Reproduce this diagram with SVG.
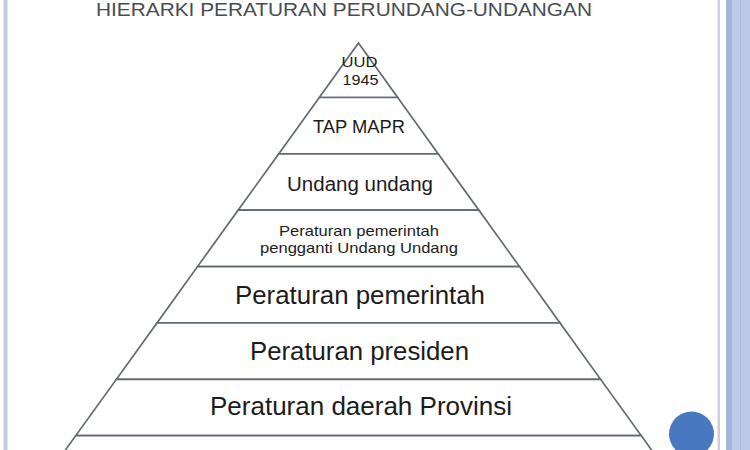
<svg xmlns="http://www.w3.org/2000/svg" width="750" height="450" viewBox="0 0 750 450">
<style>
.tier{fill:#ffffff;stroke:#626a73;stroke-width:1.7;stroke-linejoin:miter}
.lbl{font-family:"Liberation Sans",Arial,sans-serif;fill:#1c1c1c;text-anchor:middle}
.title{font-family:"Liberation Sans",Arial,sans-serif;fill:#474c53;font-size:19px}
</style>
<rect x="0" y="0" width="750" height="450" fill="#ffffff"/>
<!-- frame -->
<rect x="3.5" y="0" width="4" height="450" fill="#c7ccd9"/>
<rect x="717.5" y="0" width="2.5" height="450" fill="#cbced8"/>
<rect x="726" y="0" width="24" height="450" fill="#bccae7"/>
<rect x="726" y="0" width="6" height="450" fill="#a3b5dd"/>
<rect x="740" y="0" width="1" height="450" fill="#aebde0"/>
<text class="title" x="96" y="16" textLength="496" lengthAdjust="spacingAndGlyphs">HIERARKI PERATURAN PERUNDANG-UNDANGAN</text>
<g id="tier1">
<polygon class="tier" points="358.5,43 397.7,97.5 319.3,97.5"/>
<text class="lbl" x="359.5" y="67" font-size="15" textLength="36" lengthAdjust="spacingAndGlyphs">UUD</text>
<text class="lbl" x="360.5" y="85" font-size="15" textLength="36" lengthAdjust="spacingAndGlyphs">1945</text>
</g>
<g id="tier2">
<polygon class="tier" points="319.3,97.5 397.7,97.5 438.3,153.9 278.7,153.9"/>
<text class="lbl" x="359" y="133" font-size="18" textLength="92" lengthAdjust="spacingAndGlyphs">TAP MAPR</text>
</g>
<g id="tier3">
<polygon class="tier" points="278.7,153.9 438.3,153.9 478.9,210.2 238.1,210.2"/>
<text class="lbl" x="360" y="191" font-size="20" textLength="146" lengthAdjust="spacingAndGlyphs">Undang undang</text>
</g>
<g id="tier4">
<polygon class="tier" points="238.1,210.2 478.9,210.2 519.5,266.6 197.5,266.6"/>
<text class="lbl" x="359" y="236" font-size="15" textLength="160" lengthAdjust="spacingAndGlyphs">Peraturan pemerintah</text>
<text class="lbl" x="359" y="253" font-size="15" textLength="198" lengthAdjust="spacingAndGlyphs">pengganti Undang Undang</text>
</g>
<g id="tier5">
<polygon class="tier" points="197.5,266.6 519.5,266.6 560,322.9 157,322.9"/>
<text class="lbl" x="360" y="304" font-size="25" textLength="250" lengthAdjust="spacingAndGlyphs">Peraturan pemerintah</text>
</g>
<g id="tier6">
<polygon class="tier" points="157,322.9 560,322.9 600.6,379.3 116.4,379.3"/>
<text class="lbl" x="359.5" y="360" font-size="25" textLength="219" lengthAdjust="spacingAndGlyphs">Peraturan presiden</text>
</g>
<g id="tier7">
<polygon class="tier" points="116.4,379.3 600.6,379.3 641.2,435.6 75.8,435.6"/>
<text class="lbl" x="361" y="415" font-size="25" textLength="302" lengthAdjust="spacingAndGlyphs">Peraturan daerah Provinsi</text>
</g>
<g id="tier8">
<polygon class="tier" points="75.8,435.6 641.2,435.6 681.8,492 35.2,492"/>
</g>
<circle cx="691.5" cy="434" r="22.5" fill="#4878bf"/>
</svg>
